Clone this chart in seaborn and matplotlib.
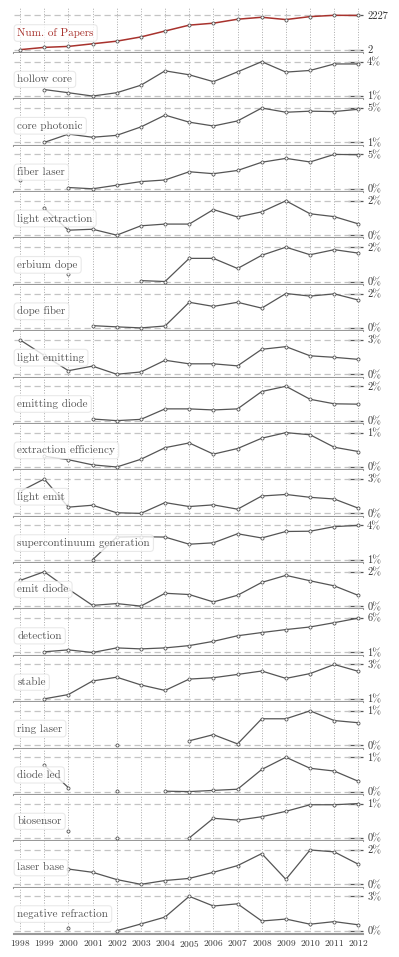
import numpy as np
import pandas as pd
import matplotlib
matplotlib.use('Agg')
import matplotlib.pyplot as plt
import seaborn as sns

nan = np.nan
years = list(range(1998, 2013))

# values (first panel: paper counts, others: % of papers)
papers = [2, 150, 213, 382, 552, 826, 1209, 1590, 1717, 1973, 2100, 1951, 2142, 2227, 2219]
hollow_core = [nan, 1.61, 1.36, 1.10, 1.36, 1.95, 3.08, 2.77, 2.23, 3.00, 3.80, 2.98, 3.11, 3.62, 3.62]
core_photonic = [nan, 1.20, 2.07, 1.74, 1.94, 2.82, 4.06, 3.32, 2.92, 3.45, 4.80, 4.36, 4.47, 4.43, 4.67]
fiber_laser = [1.44, nan, 0.47, 0.30, 0.78, 1.26, 1.48, 2.58, 2.32, 2.75, 3.85, 4.37, 3.89, 4.90, 4.86]
light_extraction = [nan, 1.61, 0.46, 0.51, 0.20, 0.69, 0.78, 0.78, 1.54, 1.15, 1.42, 2.00, 1.32, 1.17, 0.79]
erbium_dope = [nan, nan, 0.50, nan, nan, 0.15, 0.10, 1.38, 1.38, 0.82, 1.55, 2.00, 1.58, 1.86, 1.67]
dope_fiber = [nan, nan, nan, 0.23, 0.16, 0.10, 0.21, 1.59, 1.35, 1.59, 1.25, 2.10, 1.95, 2.08, 1.72]
light_emitting = [2.90, 1.68, 0.48, 0.84, 0.20, 0.38, 1.30, 1.02, 1.02, 0.86, 2.16, 2.37, 1.65, 1.53, 1.37]
emitting_diode = [nan, nan, nan, 0.19, 0.10, 0.17, 0.75, 0.75, 0.69, 0.75, 1.71, 2.00, 1.28, 1.03, 1.01]
extraction_efficiency = [nan, 0.40, 0.32, 0.20, 0.15, 0.33, 0.60, 0.71, 0.45, 0.58, 0.82, 0.95, 0.90, 0.61, 0.51]
light_emit = [1.96, 3.00, 0.65, 0.81, 0.18, 0.13, 1.03, 0.70, 0.84, 0.48, 1.58, 1.71, 1.47, 1.33, 0.56]
supercontinuum = [nan, nan, nan, 1.20, 2.98, 3.01, 2.98, 2.42, 2.53, 3.24, 2.91, 3.42, 3.44, 3.80, 3.90]
emit_diode = [1.52, 2.00, 1.04, 0.14, 0.24, 0.10, 0.81, 0.74, 0.33, 0.70, 1.41, 1.80, 1.50, 1.22, 0.69]
detection = [nan, 1.39, 1.64, 1.30, 1.90, 1.77, 1.90, 2.20, 2.76, 3.49, 3.91, 4.30, 4.64, 5.20, 5.80]
stable = [nan, 1.20, 1.45, 2.24, 2.46, 2.01, 1.69, 2.35, 2.43, 2.62, 2.82, 2.39, 2.67, 3.20, 2.80]
ring_laser = [nan, nan, nan, nan, 0.02, nan, nan, 0.12, 0.26, 0.05, 0.62, 0.62, 0.80, 0.58, 0.53]
diode_led = [nan, 0.70, 0.13, nan, 0.05, nan, 0.04, 0.03, 0.06, 0.09, 0.59, 0.90, 0.62, 0.55, 0.29]
biosensor = [nan, nan, 0.20, nan, 0.01, nan, nan, 0.01, 0.52, 0.47, 0.56, 0.70, 0.87, 0.87, 0.90]
laser_base = [nan, nan, 1.00, 0.83, 0.45, 0.20, 0.40, 0.51, 0.83, 1.18, 1.81, 0.46, 2.00, 1.90, 1.25]
negative_refraction = [nan, nan, 0.34, nan, 0.10, 0.65, 1.21, 2.90, 2.11, 2.29, 0.89, 1.05, 0.63, 0.84, 0.58]

names = ['Num. of Papers', 'hollow core', 'core photonic', 'fiber laser', 'light extraction',
         'erbium dope', 'dope fiber', 'light emitting', 'emitting diode', 'extraction efficiency',
         'light emit', 'supercontinuum generation', 'emit diode', 'detection', 'stable',
         'ring laser', 'diode led', 'biosensor', 'laser base', 'negative refraction']
series = [papers, hollow_core, core_photonic, fiber_laser, light_extraction,
          erbium_dope, dope_fiber, light_emitting, emitting_diode, extraction_efficiency,
          light_emit, supercontinuum, emit_diode, detection, stable,
          ring_laser, diode_led, biosensor, laser_base, negative_refraction]

sns.set_style('white')
plt.rcParams['font.family'] = ['cmr10', 'DejaVu Serif']
plt.rcParams['axes.formatter.use_mathtext'] = True

W, H = 399, 957
fig = plt.figure(figsize=(W / 100, H / 100), dpi=100)
left, right = 14, 363
top0, ph = 6.6, 46.37
red = '#a8322d'
grey = '#555555'

for i, (name, vals) in enumerate(zip(names, series)):
    y_top = top0 + i * ph
    ax = fig.add_axes([left / W, 1 - (y_top + ph) / H, (right - left) / W, ph / H])
    df = pd.DataFrame({'year': years, 'val': vals})
    df['seg'] = df['val'].isna().cumsum()  # break the line at missing years
    df = df.dropna()
    sns.lineplot(data=df, x='year', y='val', units='seg', estimator=None,
                 color=red if i == 0 else grey, lw=1.1 if i == 0 else 0.9,
                 marker='o', ms=2.2, mfc='white', mec=grey, mew=0.6,
                 ax=ax, legend=False, zorder=3)
    lo, hi = np.nanmin(vals), np.nanmax(vals)
    r = hi - lo
    ax.set_ylim(lo - 0.096 * r, hi + 0.253 * r)
    ax.set_xlim(1997.75, 2012.19)
    for v in (lo, hi):
        ax.axhline(v, color='#c4c4c4', ls=(0, (5, 3)), lw=0.9, zorder=1)
    ax.set_axisbelow(True)
    ax.set_xticks(years)
    ax.grid(axis='x', color='#aaaaaa', ls=':', lw=0.7)
    ax.grid(axis='y', visible=False)
    ax.yaxis.tick_right()
    ax.set_yticks([lo, hi])
    if i == 0:
        ax.set_yticklabels([f'{lo:.0f}', f'{hi:.0f}'])
    else:
        ax.set_yticklabels([f'{lo:.0f}%', f'{hi:.0f}%'])
    ax.tick_params(axis='y', direction='in', length=10.5, width=0.9, color=grey,
                   labelsize=7.5, pad=3, labelcolor='#333333')
    ax.tick_params(axis='x', length=0, labelsize=6.8, labelcolor='#333333', pad=3)
    if i < len(names) - 1:
        ax.set_xticklabels([])
    ax.set_xlabel('')
    ax.set_ylabel('')
    for s in ('top', 'left', 'right'):
        ax.spines[s].set_visible(False)
    ax.spines['bottom'].set_color('#999999')
    ax.spines['bottom'].set_linewidth(1.5)
    ax.text(0.01, 0.43, name, transform=ax.transAxes, fontsize=8, va='center', ha='left',
            color=red if i == 0 else grey, zorder=5,
            bbox=dict(boxstyle='round,pad=0.3', fc='white', ec='#e4e4e4', lw=0.8, alpha=0.8))

fig.savefig('out.png', dpi=100)
